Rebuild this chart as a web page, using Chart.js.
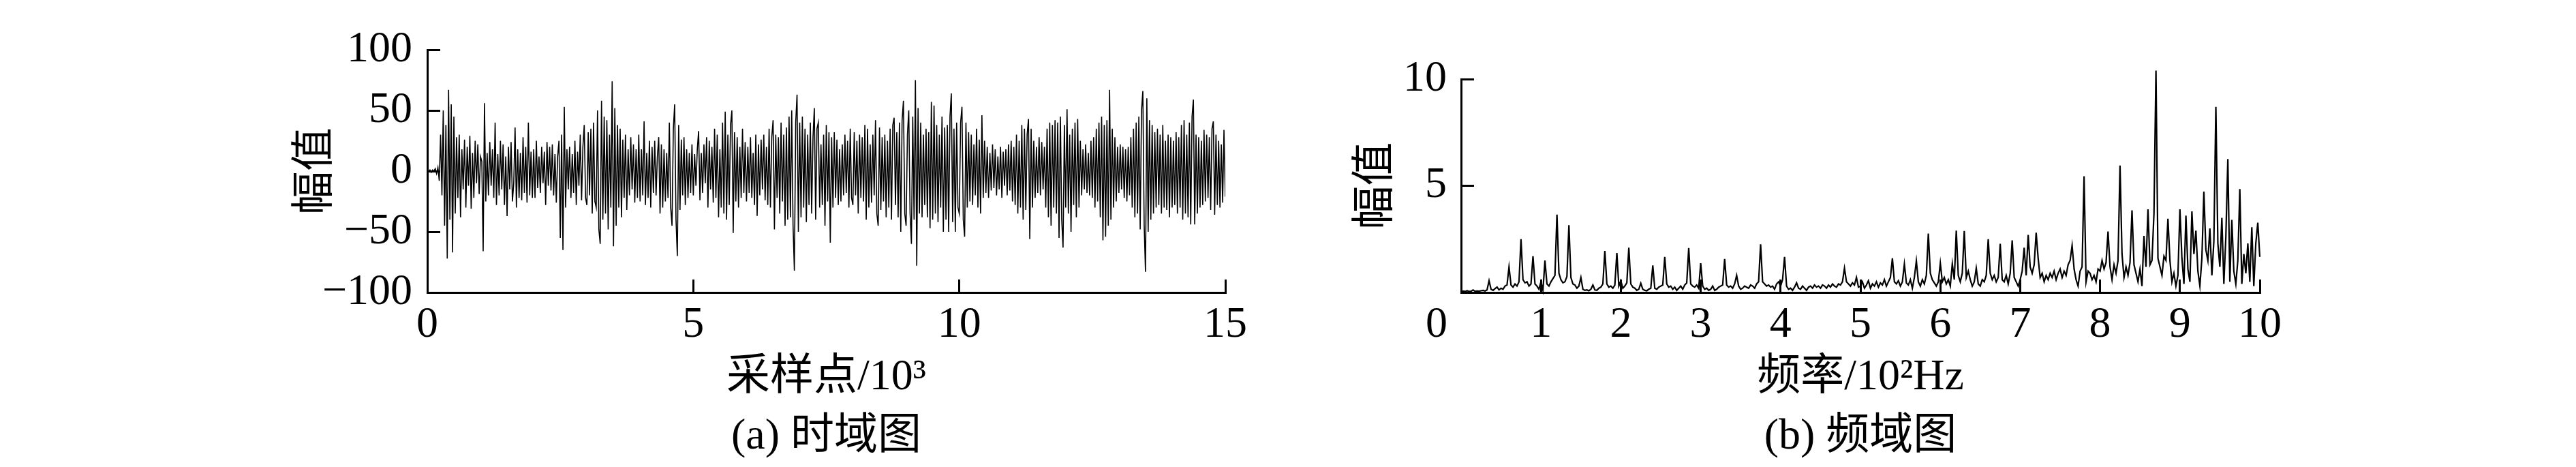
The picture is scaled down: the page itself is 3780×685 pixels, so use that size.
<!DOCTYPE html>
<html>
<head>
<meta charset="utf-8">
<script src="https://cdn.jsdelivr.net/npm/chart.js"></script>
<style>
  body { margin: 0; background: #fff; }
  canvas { position: absolute; top: 0; }
</style>
</head>
<body>
<canvas id="timeChart" width="1900" height="685" style="left:0"></canvas>
<canvas id="freqChart" width="1880" height="685" style="left:1900px"></canvas>
<script>
// (a) time domain: amplitude read every 25 samples (x in 10^3 samples)
const timeStep = 0.025;
const timeAmp = [
  0, 0, 1, -1, 1, 0, 2, -2, 3, -8, 30, -20, 50, -45, 38, -72, 67, -40, 55, -67,
  45, -35, 28, -22, 30, -38, 18, -15, 26, -30, 20, -12, 29, -31, 15, -22, 25, -10, 22, -19,
  12, 8, -66, 56, -25, 15, -20, 24, -12, 18, -22, 40, -28, 14, -20, 25, -15, 22, -28, 12,
  -37, 20, -15, 24, -25, -10, 36, -30, 18, -22, 15, -24, 28, -18, 20, -26, 40, -20, 16, -22,
  18, -22, 25, -14, 12, -18, 20, -10, 16, -28, 24, -12, 20, -16, 22, -20, 14, -26, 12, 25,
  -55, 30, -65, 53, -30, 18, -15, 20, -22, 14, -18, 25, -28, 16, -12, 30, -24, 20, 38, -22,
  -28, 32, -20, 35, -35, 40, -25, -30, 50, -48, -60, 58, -40, 45, -35, 42, -48, 30, -30, 74,
  -62, 52, -45, 38, -30, 35, -38, 26, -22, 30, -32, 18, -20, 28, -15, 22, -26, 18, -22, 30,
  -25, 18, -20, 41, -28, 15, -22, 25, -30, 20, -18, 25, -20, 12, 28, -35, 22, -30, 18, -25,
  15, -22, 40, -30, -45, 35, 55, -40, -70, 38, -32, 26, -20, 28, -28, 18, -22, 15, -18, 22,
  -20, 14, -12, 18, 33, -24, 15, -18, 22, -10, 28, -30, 25, -15, 20, -26, 35, -22, 30, -38,
  18, -30, 40, -35, 49, -40, 30, -28, 38, 50, -51, 32, -25, 28, -30, 20, -22, 35, -18, 24,
  -25, 20, -18, 28, -22, 15, -28, 30, -37, 22, -20, 26, -15, 30, -24, 20, -28, 35, -30, 28,
  42, -48, 30, -22, 28, -35, 40, -25, 30, -45, 36, -40, 45, -38, 50, -45, -82, 40, 63, -50,
  40, -38, 45, -30, 35, -42, 30, -28, 40, -35, 28, 52, -40, 35, 40, -30, 22, -28, 30, -45,
  38, -25, 32, -59, 28, -30, 32, -22, 26, -28, 18, -25, 22, -20, 30, -18, 25, -30, 35, -22,
  -28, 32, -20, 25, -35, 30, -22, 28, -25, 38, -40, 35, -30, 22, -26, 30, -20, 42, -35, -45,
  36, -32, 28, -25, 30, -38, 25, -30, 35, -40, 38, 44, -28, 32, -38, 40, -50, 42, 58, -35,
  -45, 30, 50, -35, -60, 45, -40, 75, -78, 52, -35, 40, -38, 30, -28, 35, -38, 32, -47, 57,
  -40, 54, -35, 38, -42, 30, -30, 45, -50, 36, -40, 38, -50, 45, 64, -42, 35, -50, 40, -30,
  -35, 40, 53, -40, -54, 40, -30, 32, -25, 30, -28, 22, -20, 35, -30, 26, -35, 46, -22, 25,
  -18, 20, -22, 15, -16, 22, -14, 18, -20, 12, -15, 20, -22, 16, -12, 18, -20, 22, -16, 25,
  -25, 20, -28, 30, -35, 25, -30, 38, -40, 35, -32, 30, 43, -56, 35, -30, 25, -22, 20, -18,
  28, -20, 24, -15, 20, -30, 35, -38, 40, -45, 38, -30, 42, -35, 40, -55, 45, -40, -63, 38,
  -30, 51, -35, 30, -50, 35, -28, 40, -38, 43, -30, 25, -20, 18, -15, 22, -18, 15, -20, 25,
  -22, 28, -30, 35, -25, 40, -38, 45, -57, 38, -54, 42, -45, 67, -40, 35, -30, 28, -25, 20,
  -18, 22, -15, 20, -22, 18, -25, 20, -20, 28, -30, 35, -38, 40, -35, 45, -48, 50, 66, -45,
  -83, 60, -50, 42, -40, 38, -35, 32, -30, 35, -28, 30, -35, 38, -30, 25, -32, 30, -38, 28,
  -30, 25, -28, 32, -35, 28, -30, 38, -40, 42, -35, 30, -38, 40, -44, 45, 59, -44, 30, -35,
  28, -30, 25, -28, 34, -25, 30, -22, 28, -32, 35, 41, -36, 30, -28, 25, -30, 22, -26, 34,
  -21
];
const timeTicks = [0, 5, 10, 15];
const timeYTicks = [-100, -50, 0, 50, 100];

// (b) frequency domain: amplitude every 2.5 Hz (x in 10^2 Hz)
const freqStep = 0.025;
const freqAmp = [
  0.05, 0.06, 0.05, 0.08, 0.05, 0.06, 0.12, 0.05, 0.07, 0.06, 0.08, 0.1, 0.07, 0.12, 0.55, 0.15, 0.1, 0.18, 0.25, 0.12,
  0.2, 0.15, 0.3, 0.35, 1.2, 0.35, 0.25, 0.4, 0.3, 0.5, 2.5, 0.6, 0.45, 0.5, 0.3, 0.4, 1.7, 0.4, 0.3, 0.15,
  0.5, 0.1, 1.5, 0.4, 0.3, 0.5, 0.65, 0.8, 3.65, 0.9, 0.6, 0.45, 0.5, 0.75, 3.15, 0.7, 0.4, 0.35, 0.2, 0.3,
  0.7, 0.15, 0.1, 0.12, 0.08, 0.15, 0.35, 0.12, 0.1, 0.2, 0.25, 0.4, 1.95, 0.4, 0.25, 0.3, 0.2, 0.35, 1.85, 0.3,
  0.55, 0.2, 0.3, 0.45, 2.1, 0.4, 0.25, 0.2, 0.1, 0.15, 0.43, 0.15, 0.1, 0.08, 0.15, 0.2, 1.27, 0.2, 0.15, 0.25,
  0.3, 0.35, 1.67, 0.4, 0.25, 0.3, 0.15, 0.25, 0.1, 0.2, 0.3, 0.15, 0.35, 0.45, 2.08, 0.4, 0.3, 0.25, 0.35, 0.2,
  1.37, 0.3, 0.15, 0.2, 0.1, 0.15, 0.3, 0.1, 0.15, 0.25, 0.3, 0.35, 1.57, 0.35, 0.25, 0.3, 0.2, 0.4, 0.8, 0.3,
  0.15, 0.2, 0.3, 0.25, 0.2, 0.35, 0.3, 0.2, 0.4, 0.5, 2.26, 0.5, 0.4, 0.3, 0.35, 0.25, 0.3, 0.15, 0.4, 0.5,
  0.3, 0.6, 1.67, 0.3, 0.15, 0.2, 0.1, 0.25, 0.45, 0.2, 0.15, 0.3, 0.2, 0.1, 0.25, 0.3, 0.2, 0.35, 0.25, 0.3,
  0.2, 0.35, 0.3, 0.2, 0.35, 0.25, 0.4, 0.3, 0.25, 0.4, 0.35, 0.5, 1.14, 0.5, 0.4, 0.3, 0.45, 0.35, 0.7, 0.25,
  0.3, 0.5, 0.2, 0.35, 0.55, 0.2, 0.4, 0.3, 0.5, 0.25, 0.45, 0.35, 0.6, 0.3, 0.5, 0.7, 1.6, 0.5, 0.4, 0.55,
  0.3, 0.5, 1.33, 0.45, 0.35, 0.6, 0.2, 0.7, 1.48, 0.5, 0.3, 0.6, 0.4, 0.8, 2.76, 0.9, 0.6, 0.45, 0.3, 0.5,
  1.37, 0.5, 0.7, 0.4, 0.6, 0.3, 1.35, 0.6, 2.9, 0.8, 0.5, 0.9, 2.88, 0.7, 1.0, 0.6, 0.3, 0.5, 1.14, 0.4,
  0.3, 0.6, 0.5, 0.8, 2.5, 0.9, 0.6, 0.8, 0.5, 0.7, 2.28, 0.6, 0.5, 0.8, 0.4, 0.9, 2.44, 0.7, 0.5, 0.3,
  0.6, 1.0, 2.1, 0.8, 2.7, 1.2, 0.9, 1.3, 2.8, 1.6, 0.7, 0.9, 0.5, 0.8, 0.6, 0.9, 0.7, 1.0, 0.6, 0.9,
  1.1, 0.7, 1.0, 0.8, 1.3, 1.5, 2.2, 1.1, 0.6, 0.3, 1.0, 1.2, 5.45, 0.5, 1.0, 0.9, 0.6, 0.8, 0.5, 1.1,
  1.0, 1.5, 1.1, 1.4, 2.86, 1.2, 0.6, 1.3, 0.9, 1.5, 5.95, 1.8, 0.7, 1.2, 0.8, 1.4, 3.85, 1.3, 0.9, 0.5,
  1.1, 0.3, 2.65, 1.2, 3.9, 1.3, 1.5, 3.7, 10.4, 1.6, 1.2, 0.8, 1.7, 1.5, 3.46, 1.5, 0.5, 0.9, 0.3, 0.8,
  3.9, 1.6, 0.4, 3.6, 1.1, 0.5, 3.8, 1.8, 2.9, 1.0, 0.3, 1.6, 4.73, 2.0, 1.5, 3.0, 0.8, 2.4, 8.7, 2.3,
  1.2, 3.5, 0.4, 2.6, 6.25, 0.5, 3.4, 1.0, 0.4, 1.5, 4.85, 0.4, 1.8, 0.9, 2.3, 0.5, 3.06, 0.3, 2.3, 3.27,
  1.67
];
const freqTicks = [0, 1, 2, 3, 4, 5, 6, 7, 8, 9, 10];
const freqYTicks = [0, 5, 10];

const fontFamily = "'Liberation Serif', 'Noto Sans CJK SC', serif";
const tickFont = { family: fontFamily, size: 64, lineHeight: 1 };
const titleFont = { family: fontFamily, size: 64, lineHeight: 1.36 };

function minusSign(v) {
  return String(v).replace('-', '\u2212');
}

function axisStyle() {
  return {
    border: { display: true, color: '#000', width: 3 },
    grid: { drawOnChartArea: false, drawTicks: true, tickLength: -19, tickWidth: 3, tickColor: '#000' }
  };
}

const timeData = timeAmp.map((v, i) => ({ x: +(i * timeStep).toFixed(3), y: v }));
const freqData = freqAmp.map((v, i) => ({ x: +(i * freqStep).toFixed(3), y: v }));

new Chart(document.getElementById('timeChart'), {
  type: 'line',
  data: {
    datasets: [{
      data: timeData,
      borderColor: '#000',
      borderWidth: 1.6,
      pointRadius: 0,
      tension: 0
    }]
  },
  options: {
    responsive: false,
    animation: false,
    layout: { padding: { left: 0, right: 102, top: 36, bottom: 0 } },
    plugins: { legend: { display: false }, tooltip: { enabled: false } },
    scales: {
      x: {
        type: 'linear', min: 0, max: 15,
        ...axisStyle(),
        afterBuildTicks: (s) => { s.ticks = timeTicks.map(v => ({ value: v })); },
        afterFit: (s) => { s.height = 256; },
        ticks: { color: '#000', font: tickFont, padding: 35, maxRotation: 0, callback: (v) => minusSign(v) },
        title: { display: true, text: ['采样点/10³', '(a) 时域图'], color: '#000', font: titleFont, padding: { top: 0, bottom: 0 } }
      },
      y: {
        type: 'linear', min: -100, max: 100,
        ...axisStyle(),
        afterBuildTicks: (s) => { s.ticks = timeYTicks.map(v => ({ value: v })); },
        afterFit: (s) => { s.width = 627; },
        ticks: { color: '#000', font: tickFont, padding: 41, callback: (v) => minusSign(v) },
        title: { display: true, text: '幅值', color: '#000', font: { family: fontFamily, size: 64, lineHeight: 1.2 }, padding: { top: 426, bottom: 0 } }
      }
    }
  }
});

// the "0" under the frequency axis sits left of the corner in the original
const zeroLabel = {
  id: 'zeroLabel',
  afterDraw(chart) {
    const xs = chart.scales.x;
    const ctx = chart.ctx;
    ctx.save();
    ctx.font = "64px " + fontFamily;
    ctx.fillStyle = '#000';
    ctx.textAlign = 'center';
    ctx.textBaseline = 'middle';
    ctx.fillText('0', xs.getPixelForValue(0) - 36, xs.top + 48);
    ctx.restore();
  }
};

new Chart(document.getElementById('freqChart'), {
  type: 'line',
  data: {
    datasets: [{
      data: freqData,
      borderColor: '#000',
      borderWidth: 2.2,
      pointRadius: 0,
      tension: 0,
      clip: false
    }]
  },
  options: {
    responsive: false,
    animation: false,
    layout: { padding: { left: 0, right: 464, top: 116, bottom: 0 } },
    plugins: { legend: { display: false }, tooltip: { enabled: false } },
    scales: {
      x: {
        type: 'linear', min: 0, max: 10,
        ...axisStyle(),
        afterBuildTicks: (s) => { s.ticks = freqTicks.map(v => ({ value: v })); },
        afterFit: (s) => { s.height = 256; },
        ticks: { color: '#000', font: tickFont, padding: 35, maxRotation: 0, autoSkip: false, callback: (v) => v === 0 ? '' : String(v) },
        title: { display: true, text: ['频率/10²Hz', '(b) 频域图'], color: '#000', font: titleFont, padding: { top: 0, bottom: 0 } }
      },
      y: {
        type: 'linear', min: 0, max: 10,
        ...axisStyle(),
        afterBuildTicks: (s) => { s.ticks = freqYTicks.map(v => ({ value: v })); },
        afterFit: (s) => { s.width = 244; },
        ticks: { color: '#000', font: tickFont, padding: 40, callback: (v) => v === 0 ? '' : String(v) },
        title: { display: true, text: '幅值', color: '#000', font: { family: fontFamily, size: 64, lineHeight: 1.2 }, padding: { top: 82, bottom: 0 } }
      }
    }
  },
  plugins: [zeroLabel]
});
</script>
</body>
</html>
